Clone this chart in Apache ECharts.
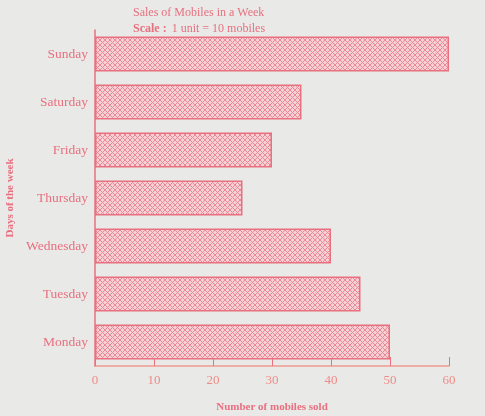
<!DOCTYPE html>
<html><head><meta charset="utf-8">
<style>html,body{margin:0;padding:0;background:#e9e9e8;}#c{width:485px;height:416px;}</style>
<script src="https://cdn.jsdelivr.net/npm/echarts@6/dist/echarts.min.js"></script>
</head><body><div id="c"></div>
<script>
const categories = ['Monday','Tuesday','Wednesday','Thursday','Friday','Saturday','Sunday'];
const values = [50, 45, 40, 25, 30, 35, 60];
const xTicks = [0, 10, 20, 30, 40, 50, 60];

const PINK = '#e8707f';
function hatch(){
  const c = document.createElement('canvas');
  c.width = 5; c.height = 5;
  const g = c.getContext('2d');
  g.fillStyle = '#f6d0d5'; g.fillRect(0,0,5,5);
  g.strokeStyle = '#ea8a97'; g.lineWidth = 1;
  g.beginPath();
  g.moveTo(0,0); g.lineTo(5,5);
  g.moveTo(5,0); g.lineTo(0,5);
  g.stroke();
  return c;
}
const chart = echarts.init(document.getElementById('c'));
chart.setOption({
  backgroundColor: '#e9e9e8',
  animation: false,
  title: {
    left: 128, top: 1,
    text: '{a|Sales of Mobiles in a Week}\n{b|Scale :} {a|1 unit = 10 mobiles}',
    textStyle: {
      rich: {
        a: {fontFamily: 'Liberation Serif', fontSize: 12, fontWeight: 'normal', color: PINK, lineHeight: 14},
        b: {fontFamily: 'Liberation Serif', fontSize: 12, fontWeight: 'bold', color: PINK, lineHeight: 14}
      }
    }
  },
  grid: {left: 95, right: 36, top: 30, bottom: 50, containLabel: false, outerBoundsMode: 'none'},
  xAxis: {
    type: 'value', min: 0, max: 60, interval: 10,
    name: 'Number of mobiles sold', nameLocation: 'middle', nameGap: 36,
    nameTextStyle: {fontFamily: 'Liberation Serif', fontSize: 11, fontWeight: 'bold', color: PINK},
    axisLine: {show: true, lineStyle: {color: '#ef9a8f', width: 1.5}},
    axisTick: {show: true, inside: true, length: 9, lineStyle: {color: PINK}},
    splitLine: {show: false},
    axisLabel: {fontFamily: 'Liberation Serif', fontSize: 13, color: '#ee8c88', margin: 8,
      formatter: v => xTicks.includes(v) ? String(v) : ''}
  },
  yAxis: {
    type: 'category', data: categories,
    name: 'Days of the week', nameLocation: 'middle', nameGap: 76, nameRotate: 90,
    nameTextStyle: {fontFamily: 'Liberation Serif', fontSize: 11, fontWeight: 'bold', color: PINK},
    axisLine: {show: true, lineStyle: {color: PINK, width: 1.5}},
    axisTick: {show: true, inside: true, alignWithLabel: true, length: 8, lineStyle: {color: '#c06070'}},
    axisLabel: {fontFamily: 'Liberation Serif', fontSize: 13.5, color: PINK, margin: 7}
  },
  series: [{
    type: 'bar', data: values, barCategoryGap: '27%',
    itemStyle: {color: {image: hatch(), repeat: 'repeat'}, borderColor: PINK, borderWidth: 1.5}
  }]
});
</script></body></html>
